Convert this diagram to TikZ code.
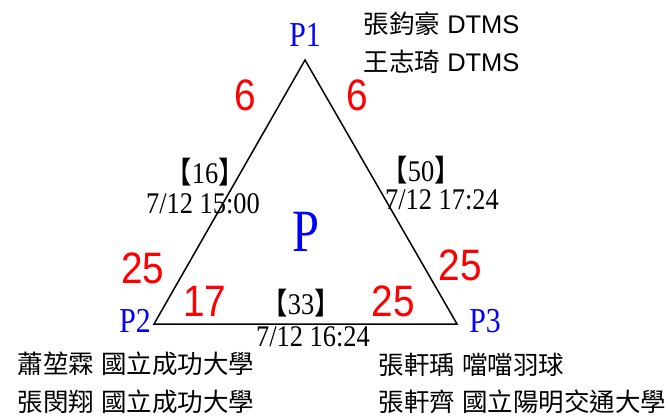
\documentclass[tikz,border=0pt]{standalone}
\usepackage{fontspec}
\setmainfont{Liberation Serif}
\newfontfamily\cjkfont{Noto Sans CJK TC}
\newfontfamily\arialfont{Liberation Sans}
\newcommand{\fsz}[1]{\fontsize{#1}{#1}\selectfont}
\newcommand{\gap}{\hspace{7pt}}
\tikzset{
    vlabel/.style={text=blue, font=\fsz{35}, xscale=0.85, inner sep=0pt},
    score/.style={text=red, font=\arialfont\fsz{44}, xscale=0.88, inner sep=0pt},
    game/.style={font=\fsz{30}, xscale=0.88, inner sep=0pt},
    player/.style={anchor=west, font=\cjkfont\fsz{25.5}, inner sep=0pt},
}

\begin{document}
\begin{tikzpicture}[x=1pt, y=-1pt, line width=1.5pt]
            \useasboundingbox (0,0) rectangle (668,416);
            \coordinate (p1) at (305,60);
            \coordinate (p2) at (154,324);
            \coordinate (p3) at (457,324);
            \draw[line join=miter] (p1) -- (p2) -- (p3) -- cycle;

            \node[vlabel] (l1) at (305,35) {P1};
            \node[vlabel] (l2) at (135,321) {P2};
            \node[vlabel] (l3) at (485,321) {P3};
            \node[vlabel, font=\fsz{60}, xscale=0.95] (pool) at (306,232) {P};

            % players
            \node[player] (a1) at (363,24) {張鈞豪\gap{\arialfont DTMS}};
            \node[player] (a2) at (363,62) {王志琦\gap{\arialfont DTMS}};
            \node[player] (b1) at (17,364) {蕭堃霖\gap 國立成功大學};
            \node[player] (b2) at (17,402) {張閔翔\gap 國立成功大學};
            \node[player] (c1) at (378,365) {張軒瑀\gap 噹噹羽球};
            \node[player] (c2) at (378,402) {張軒齊\gap 國立陽明交通大學};

            % scores
            \node[score] (s12) at (245,95) {6};
            \node[score] (s13) at (357,95) {6};
            \node[score] (s21) at (143,268) {25};
            \node[score] (s31) at (460,265) {25};
            \node[score] (s23) at (205,301) {17};
            \node[score] (s32) at (393,301) {25};

            % games
            \node[game] (g12) at (205,172) {{\cjkfont 【}16{\cjkfont 】}};
            \node[game] (t12) at (203,204) {7/12 15:00};
            \node[game] (g13) at (421,170) {{\cjkfont 【}50{\cjkfont 】}};
            \node[game] (t13) at (442,200) {7/12 17:24};
            \node[game] (g23) at (301,303) {{\cjkfont 【}33{\cjkfont 】}};
            \node[game] (t23) at (313,337) {7/12 16:24};
        \end{tikzpicture}
\end{document}
